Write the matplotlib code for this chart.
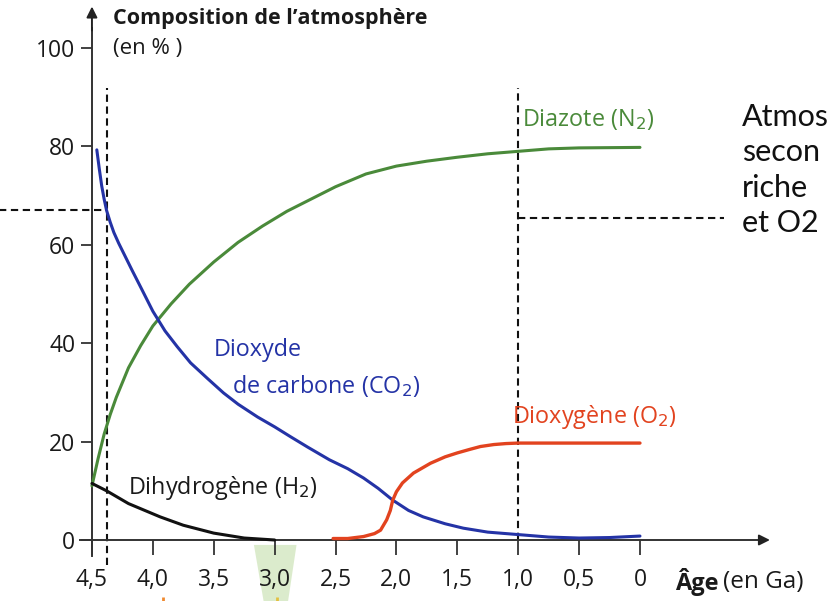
import matplotlib
matplotlib.use("Agg")
import matplotlib.pyplot as plt
from matplotlib.patches import Polygon
from matplotlib.ticker import FixedLocator, FuncFormatter

plt.rcParams['font.family'] = ['Open Sans', 'DejaVu Sans']

# ---------------- data ----------------
n2_age = [4.5, 4.45, 4.4, 4.35, 4.3, 4.2, 4.1, 4.0, 3.85, 3.7, 3.5, 3.3, 3.1, 2.9, 2.7, 2.5, 2.25, 2.0, 1.75, 1.5, 1.25, 1.0, 0.75, 0.5, 0.0]
n2_val = [11, 16.5, 21.5, 25.5, 29, 35, 39.5, 43.5, 48, 52, 56.5, 60.5, 63.8, 66.8, 69.3, 71.8, 74.4, 76, 77, 77.8, 78.5, 79, 79.5, 79.7, 79.8]

co2_age = [4.46, 4.44, 4.42, 4.4, 4.38, 4.35, 4.32, 4.28, 4.24, 4.17, 4.1, 4.0, 3.9, 3.8, 3.69, 3.55, 3.42, 3.3, 3.14, 3.0, 2.87, 2.73, 2.55, 2.4, 2.27, 2.15, 2.03, 1.9, 1.78, 1.6, 1.45, 1.25, 1.0, 0.75, 0.5, 0.25, 0.0]
co2_val = [79.3, 75.5, 72, 69.3, 67, 64.6, 62.5, 60.3, 58.3, 54.8, 51.4, 46.5, 42.5, 39.3, 36, 32.8, 29.9, 27.6, 25, 23, 21, 18.9, 16.3, 14.5, 12.6, 10.5, 8.1, 6.0, 4.7, 3.3, 2.4, 1.6, 1.1, 0.6, 0.4, 0.5, 0.8]

o2_age = [2.52, 2.4, 2.27, 2.18, 2.13, 2.08, 2.05, 2.03, 2.0, 1.95, 1.86, 1.72, 1.6, 1.5, 1.4, 1.31, 1.2, 1.1, 1.0, 0.5, 0.0]
o2_val = [0.3, 0.3, 0.7, 1.3, 2.0, 4.1, 6.0, 8.1, 9.8, 11.6, 13.6, 15.6, 16.9, 17.7, 18.4, 19.0, 19.4, 19.6, 19.7, 19.7, 19.7]

h2_age = [4.5, 4.38, 4.2, 3.94, 3.75, 3.5, 3.25, 3.0]
h2_val = [11.5, 10, 7.4, 4.7, 3.0, 1.4, 0.4, 0.0]

x_ticks = [4.5, 4.0, 3.5, 3.0, 2.5, 2.0, 1.5, 1.0, 0.5, 0.0]
y_ticks = [0, 20, 40, 60, 80, 100]

event_ages = [4.38, 1.0]          # vertical dashed markers
event_levels = [67, 65.4]         # horizontal dashed markers

side_text = ["Atmos", "secon", "riche", "et O2"]

GREEN = '#4a8a3a'
BLUE = '#2433a6'
RED = '#e2431f'

fig = plt.figure(figsize=(8.33, 6.01), dpi=100)
ax = fig.add_axes([0, 0, 1, 1])
ax.set_xlim(5.255, -1.585)
ax.set_ylim(-12.4, 109.76)
ax.patch.set_alpha(0)

# axes spines as arrows
for s in ['top', 'right']:
    ax.spines[s].set_visible(False)
ax.spines['left'].set_position(('data', 4.5))
ax.spines['bottom'].set_position(('data', 0))
ax.spines['left'].set_bounds(-3.2, 104)
ax.spines['bottom'].set_bounds(4.6, -1.0)
for s in ['left', 'bottom']:
    ax.spines[s].set_linewidth(1.4)
    ax.spines[s].set_color('#333333')
ax.annotate('', xy=(4.5, 109), xytext=(4.5, 103),
            arrowprops=dict(arrowstyle='-|>', color='#222222', lw=1.4, mutation_scale=16))
ax.annotate('', xy=(-1.09, 0), xytext=(-0.98, 0),
            arrowprops=dict(arrowstyle='-|>', color='#222222', lw=1.4, mutation_scale=16))

ax.xaxis.set_major_locator(FixedLocator(x_ticks))
ax.yaxis.set_major_locator(FixedLocator(y_ticks))
ax.xaxis.set_major_formatter(FuncFormatter(lambda v, p: ('%.1f' % v).replace('.', ',') if v != 0 else '0'))
ax.yaxis.set_major_formatter(FuncFormatter(lambda v, p: '%d' % v))
ax.tick_params(axis='x', direction='out', length=11, width=1.3, color='#333333', pad=9,
               labelsize=16.5, labelcolor='#1a1a1a')
ax.tick_params(axis='y', direction='out', length=8, width=1.3, color='#333333', pad=4,
               labelsize=16.5, labelcolor='#1a1a1a')

# light green shaded band below axis near 3.0 Ga
band = Polygon([(3.17, -1), (2.82, -1), (2.89, -12.5), (3.09, -12.5)], closed=True,
               facecolor='#b9d99a', edgecolor='none', alpha=0.5, zorder=0)
ax.add_patch(band)
ax.plot([3.92, 3.92], [-11.5, -12.5], color='#f08a30', lw=2, solid_capstyle='butt', clip_on=False)
ax.plot([2.98, 2.98], [-11.5, -12.5], color='#e3c040', lw=2, solid_capstyle='butt', clip_on=False)

# dashed guide lines
dash = dict(color='#111111', lw=1.5, linestyle=(0, (3.5, 2.2)))
ax.plot([event_ages[0], event_ages[0]], [-5, 91.9], **dash)
ax.plot([event_ages[1], event_ages[1]], [0, 91.9], **dash)
ax.plot([5.3, event_ages[0]], [event_levels[0], event_levels[0]], **dash)
ax.plot([event_ages[1], -0.69], [event_levels[1], event_levels[1]], **dash)

# curves
ax.plot(n2_age, n2_val, color=GREEN, lw=2.2, solid_capstyle='round', zorder=3)
ax.plot(co2_age, co2_val, color=BLUE, lw=2.2, solid_capstyle='round', zorder=3)
ax.plot(o2_age, o2_val, color=RED, lw=2.4, solid_capstyle='round', zorder=3)
ax.plot(h2_age, h2_val, color='#111111', lw=2.2, solid_capstyle='round', zorder=3)

# labels
ax.text(4.33, 106.0, "Composition de l’atmosphère", fontsize=15.5, fontweight='bold',
        color='#1a1a1a', ha='left', va='center')
ax.text(4.33, 100.0, "(en % )", fontsize=16, color='#1a1a1a', ha='left', va='center')
ax.text(-0.287, -8.6, "Âge", fontsize=17, fontweight='bold', color='#1a1a1a', ha='left', va='center')
ax.text(-0.681, -8.6, "(en Ga)", fontsize=17.5, color='#1a1a1a', ha='left', va='center')

lab = dict(fontsize=16.8, ha='left', va='center')
ax.text(0.97, 85.4, "Diazote (N$_2$)", color=GREEN, **lab)
ax.text(3.5, 38.7, "Dioxyde", color=BLUE, **lab)
ax.text(3.35, 31.4, "de carbone (CO$_2$)", color=BLUE, **lab)
ax.text(1.05, 24.9, "Dioxygène (O$_2$)", color=RED, **lab)
ax.text(4.2, 10.6, "Dihydrogène (H$_2$)", color='#1a1a1a', **lab)

for i, t in enumerate(side_text):
    ax.text(-0.84, 86 - i * 7.2, t, fontsize=22, family=['Lato', 'DejaVu Sans'],
            color='#111111', ha='left', va='center', clip_on=False)

fig.savefig("out.png", dpi=100)
